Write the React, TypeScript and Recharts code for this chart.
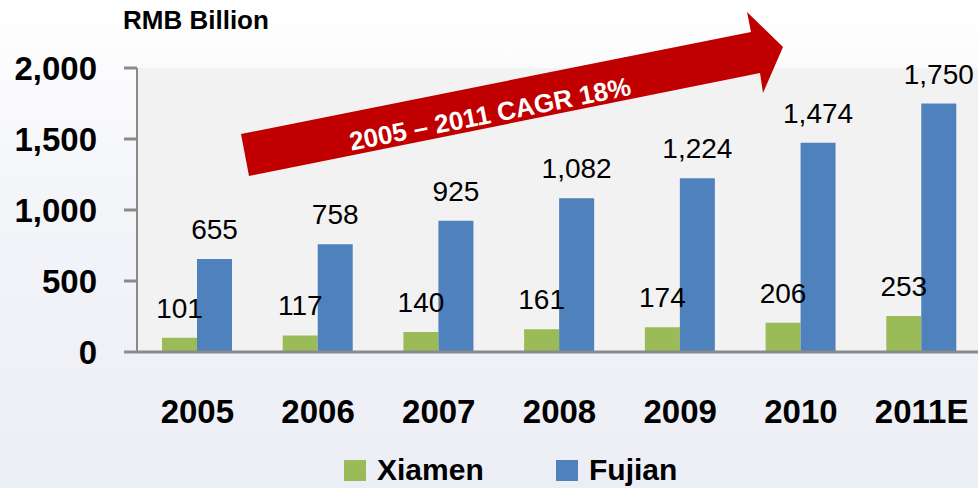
import React from 'react';
import { BarChart, Bar, XAxis, YAxis, CartesianGrid, LabelList, Legend } from 'recharts';

const years = ['2005', '2006', '2007', '2008', '2009', '2010', '2011E'];
const xiamen = [101, 117, 140, 161, 174, 206, 253];
const fujian = [655, 758, 925, 1082, 1224, 1474, 1750];
const yTicks = [0, 500, 1000, 1500, 2000];
const seriesNames = ['Xiamen', 'Fujian'];
const seriesColors = ['#9bbb59', '#4f81bd'];
const unitLabel = 'RMB Billion';
const arrowText = '2005 – 2011 CAGR 18%';

const data = years.map((y, i) => ({ year: y, Xiamen: xiamen[i], Fujian: fujian[i] }));

const FONT = '"Liberation Sans", Arial, sans-serif';
const fmt = (v: any) => Number(v).toLocaleString('en-US');

const renderLegend = () => (
  <div
    style={{
      display: 'flex',
      alignItems: 'center',
      fontFamily: FONT,
      fontWeight: 'bold',
      fontSize: 30,
      color: '#000',
      lineHeight: 1,
    }}
  >
    {seriesNames.map((n, i) => (
      <div key={n} style={{ display: 'flex', alignItems: 'center', width: i === 0 ? 212 : undefined }}>
        <span style={{ display: 'inline-block', width: 22, height: 21, background: seriesColors[i], marginRight: 11 }} />
        <span>{n}</span>
      </div>
    ))}
  </div>
);

export default function App() {
  return (
    <div
      style={{
        position: 'absolute',
        left: 0,
        top: 0,
        width: 978,
        height: 488,
        overflow: 'hidden',
        background: 'linear-gradient(180deg, #ffffff 0%, #f4f5f9 40%, #eceef5 100%)',
        fontFamily: FONT,
      }}
    >
      <BarChart
        width={986}
        height={488}
        data={data}
        margin={{ top: 68, right: 4, left: 0, bottom: 0 }}
        barGap={0}
        barSize={35}
        style={{ fontFamily: FONT }}
      >
        <CartesianGrid horizontal={false} vertical={false} fill="#f2f2f2" stroke="none" />
        <XAxis
          dataKey="year"
          height={136}
          tickLine={false}
          tickSize={0}
          tickMargin={48}
          axisLine={{ stroke: '#8a8a8a', strokeWidth: 3 }}
          tick={{ fontSize: 33, fontWeight: 'bold', fill: '#000' }}
          interval={0}
        />
        <YAxis
          width={137}
          domain={[0, 2000]}
          ticks={yTicks}
          tickFormatter={fmt}
          tickSize={13}
          tickMargin={27}
          axisLine={{ stroke: '#8a8a8a', strokeWidth: 2 }}
          tickLine={{ stroke: '#8a8a8a', strokeWidth: 3 }}
          tick={{ fontSize: 33, fontWeight: 'bold', fill: '#000' }}
          interval={0}
        />
        <Legend
          verticalAlign="middle"
          layout="horizontal"
          content={renderLegend}
          wrapperStyle={{ left: 344, top: 455, width: 'auto', height: 26 }}
        />
        <Bar dataKey="Xiamen" fill={seriesColors[0]} isAnimationActive={false}>
          <LabelList dataKey="Xiamen" position="top" offset={20} formatter={fmt} fill="#000" fontSize={28} />
        </Bar>
        <Bar dataKey="Fujian" fill={seriesColors[1]} isAnimationActive={false}>
          <LabelList dataKey="Fujian" position="top" offset={20} formatter={fmt} fill="#000" fontSize={28} />
        </Bar>
      </BarChart>
      <svg
        width={978}
        height={488}
        style={{ position: 'absolute', left: 0, top: 0, pointerEvents: 'none' }}
      >
        <text x={123} y={29} fontSize={26} fontWeight="bold" fill="#000" fontFamily={FONT}>
          {unitLabel}
        </text>
        <polygon
          points="249,176 241,134 751,32 747,12 783,47 763,93 760,73"
          fill="#c00000"
        />
        <text
          x={490}
          y={114}
          fontSize={26}
          fontWeight="bold"
          fill="#fff"
          textAnchor="middle"
          dominantBaseline="central"
          fontFamily={FONT}
          transform="rotate(-11.3 490 114)"
        >
          {arrowText}
        </text>
      </svg>
    </div>
  );
}
